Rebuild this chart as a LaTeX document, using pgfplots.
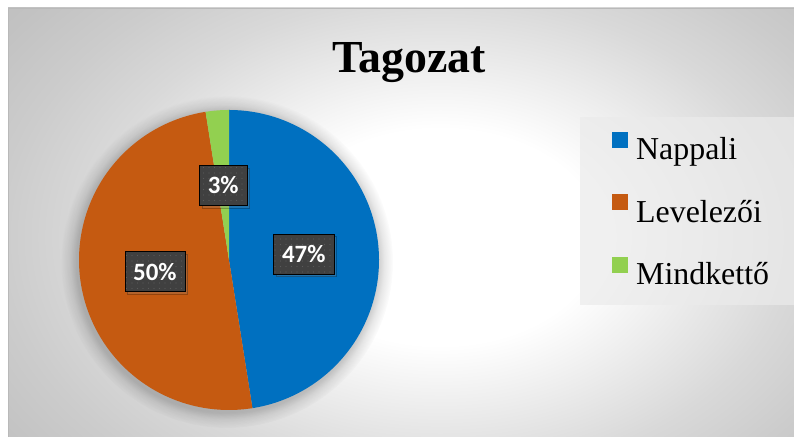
\documentclass[border=0pt]{standalone}
\usepackage{fontspec}
\setmainfont{Liberation Serif}
\newfontfamily\lblfont{Carlito}
\usepackage{pgfplots}
\usepackage{pgfplotstable}
\pgfplotsset{compat=1.18}
\usetikzlibrary{shadows,patterns.meta,fadings}
\definecolor{cNap}{HTML}{0070C0}
\definecolor{cLev}{HTML}{C55A11}
\definecolor{cMin}{HTML}{92D050}
\definecolor{cLbl}{HTML}{404040}
\definecolor{cDot}{HTML}{5A5A5A}
\definecolor{cLeg}{HTML}{EBEBEB}
\pgfdeclareradialshading{bgshade}{\pgfpointorigin}{color(0bp)=(white); color(9bp)=(white); color(20bp)=(white!85!black); color(25bp)=(white!80!black); color(30bp)=(white!76!black); color(36bp)=(white!74!black); color(50bp)=(white!74!black)}
\pgfdeclareradialshading{glowfadeshade}{\pgfpointorigin}{color(0bp)=(pgftransparent!80); color(22.6bp)=(pgftransparent!80); color(23.6bp)=(pgftransparent!91); color(25bp)=(pgftransparent!100); color(50bp)=(pgftransparent!100)}
\pgfdeclarefading{pieglow}{\pgfuseshading{glowfadeshade}}

% shares of the pie (percent)
\pgfplotstableread{
part value
1 47.5
2 50.0
3 2.5
}\piedata
\pgfplotstablegetelem{0}{value}\of\piedata \edef\vA{\pgfplotsretval}
\pgfplotstablegetelem{1}{value}\of\piedata \edef\vB{\pgfplotsretval}
\pgfplotstablegetelem{2}{value}\of\piedata \edef\vC{\pgfplotsretval}
\pgfmathsetmacro\aA{90}
\pgfmathsetmacro\aB{\aA-3.6*\vA}
\pgfmathsetmacro\aC{\aB-3.6*\vB}
\pgfmathsetmacro\aD{\aC-3.6*\vC}

\begin{document}
\begin{tikzpicture}[x=1bp,y=1bp]
\useasboundingbox (0,0) rectangle (794,437);
\fill[white] (0,0) rectangle (794,437);
\begin{scope}
\clip (8,0) rectangle (794,429);
\shade[shading=bgshade] (0,-100) rectangle (880,500);
\fill[black, path fading=pieglow, fit fading=true] (227,175) circle (166);
\end{scope}
\draw[gray!55, line width=1bp] (8.5,0) -- (8.5,428.5) -- (794,428.5);
\node[font=\fontsize{46}{50}\selectfont\bfseries, anchor=base, inner sep=0pt] at (409,364) {Tagozat};

\begin{axis}[
  at={(229bp,177bp)}, anchor=origin,
  x=150bp, y=150bp,
  xmin=-1, xmax=1, ymin=-1, ymax=1,
  hide axis, clip=false,
  legend cell align=left,
  legend image code/.code={\fill[#1, fill opacity=1] (0bp,2.5bp) rectangle (16bp,18.5bp);},
  legend style={at={(axis cs:2.34,0.953)}, anchor=north west,
    fill=cLeg, fill opacity=0.7, text opacity=1, draw=none,
    inner xsep=32bp, inner ysep=15bp,
    /tikz/row sep=29bp, /tikz/column sep=8bp,
    nodes={inner sep=0bp, text height=24bp, text depth=5.5bp,
      font=\fontsize{32}{36}\selectfont, text width=140bp, align=left}},
]
\addplot[draw=none, fill=cNap, domain=\aB:\aA, samples=140, variable=\t]
  ({cos(\t)},{sin(\t)}) -- (axis cs:0,0) -- cycle;
\addlegendentry{Nappali}
\addplot[draw=none, fill=cLev, domain=\aC:\aB, samples=140, variable=\t]
  ({cos(\t)},{sin(\t)}) -- (axis cs:0,0) -- cycle;
\addlegendentry{Levelezői}
\addplot[draw=none, fill=cMin, domain=\aD:\aC, samples=20, variable=\t]
  ({cos(\t)},{sin(\t)}) -- (axis cs:0,0) -- cycle;
\addlegendentry{Mindkettő}

\addplot[forget plot, only marks, mark=none, point meta=explicit symbolic,
  nodes near coords,
  nodes near coords style={anchor=center, fill=cLbl, text=white,
    font=\lblfont\bfseries\fontsize{25}{28}\selectfont,
    minimum height=40bp, inner xsep=8.5bp, inner ysep=0bp,
    drop shadow={shadow xshift=2.5bp, shadow yshift=-2.5bp, opacity=0.25},
    postaction={pattern={Dots[distance=5.5bp, radius=0.7bp]}, pattern color=cDot}}]
  coordinates {(0.498,0.039) [47\%] (-0.494,-0.078) [50\%] (-0.039,0.498) [3\%]};
\end{axis}
\end{tikzpicture}
\end{document}
